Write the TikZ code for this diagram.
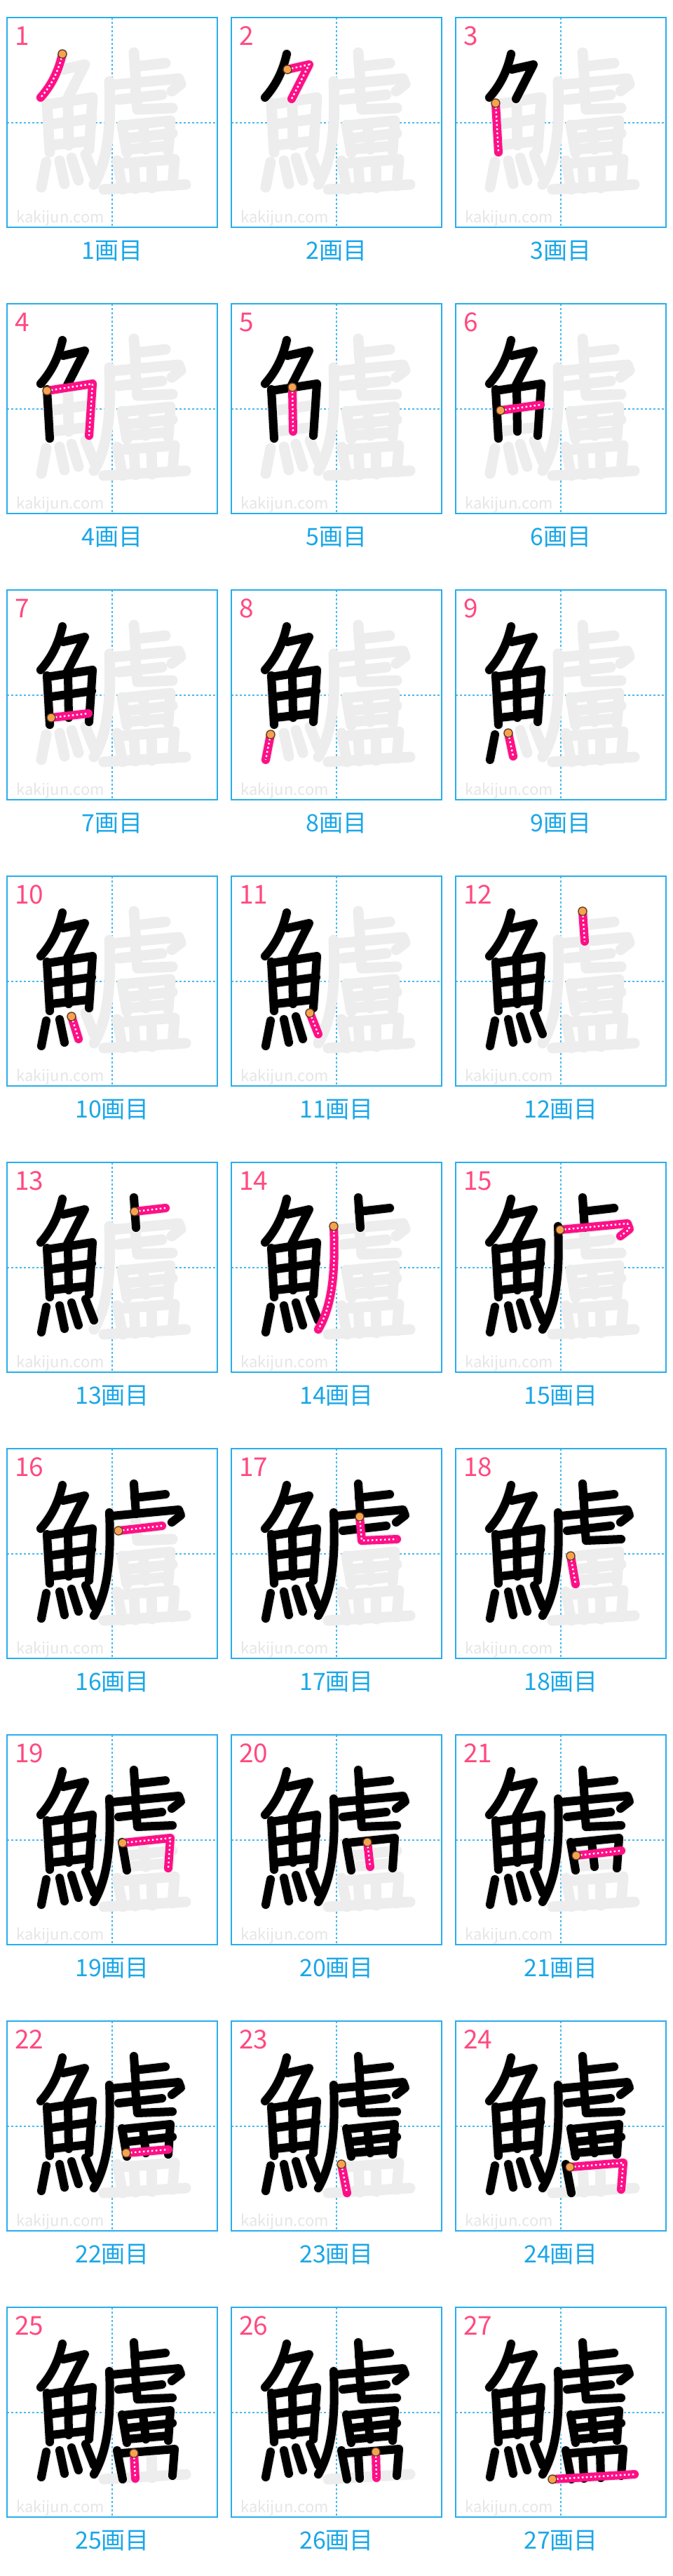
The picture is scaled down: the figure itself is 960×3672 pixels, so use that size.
\documentclass[tikz,border=0pt]{standalone}
\usepackage{fontspec}
\usepackage{tikz}
\newfontfamily\jpfont{Noto Sans CJK JP}
\definecolor{gridblue}{HTML}{29AEEB}
\definecolor{labelblue}{HTML}{1AA7E8}
\definecolor{numpink}{HTML}{FF4A80}
\definecolor{curpink}{HTML}{FF0F87}
\definecolor{ghost}{HTML}{EDEDED}
\definecolor{wmgray}{HTML}{E6E6E6}
\definecolor{startdot}{HTML}{F7A24F}
\definecolor{dotedge}{HTML}{5C3B1E}
%% stroke table: number, start point, rest of path (cell-local px, y down)
\newcommand\defstroke[3]{%
  \expandafter\def\csname kst#1\endcsname{#2}%
  \expandafter\def\csname kpa#1\endcsname{#3}}
\newcommand\getstroke[1]{%
  \edef\thispath{\csname kst#1\endcsname\csname kpa#1\endcsname}%
  \edef\thisstart{\csname kst#1\endcsname}}
\defstroke{1}{(79,52)}{.. controls (73,78) and (63,97) .. (48,114)}
\defstroke{2}{(80,74)}{-- (111,67) -- (86,116)}
\defstroke{3}{(57,122)}{-- (61,192)}
\defstroke{4}{(57,124)}{-- (122,114) -- (117,188)}
\defstroke{5}{(87,119)}{-- (88,182)}
\defstroke{6}{(64,152)}{-- (121,144)}
\defstroke{7}{(63,182)}{-- (116,176)}
\defstroke{8}{(56,206)}{-- (49,242)}
\defstroke{9}{(75,204)}{-- (82,237)}
\defstroke{10}{(92,200)}{-- (102,232)}
\defstroke{11}{(112,195)}{-- (124,225)}
\defstroke{12}{(181,50)}{-- (184,93)}
\defstroke{13}{(182,70)}{-- (226,65)}
\defstroke{14}{(146,91)}{.. controls (149,160) and (143,205) .. (124,238)}
\defstroke{15}{(149,96)}{-- (245,87) -- (248,95) -- (235,105)}
\defstroke{16}{(159,117)}{-- (221,110)}
\defstroke{17}{(183,97)}{-- (186,131) -- (236,129)}
\defstroke{18}{(164,153)}{-- (171,193)}
\defstroke{19}{(165,154)}{-- (233,147) -- (230,190)}
\defstroke{20}{(194,153)}{-- (198,188)}
\defstroke{21}{(172,172)}{-- (236,165)}
\defstroke{22}{(170,188)}{-- (230,183)}
\defstroke{23}{(157,204)}{-- (165,245)}
\defstroke{24}{(163,208)}{-- (239,202) -- (236,240)}
\defstroke{25}{(181,208)}{-- (183,244)}
\defstroke{26}{(206,206)}{-- (207,243)}
\defstroke{27}{(138,245)}{-- (255,238)}
\begin{document}
\begin{tikzpicture}[x=1pt, y=-1pt,
  cellframe/.style  = {draw=gridblue, line width=1.6pt},
  guide/.style      = {draw=gridblue!85, line width=1.3pt, dash pattern=on 3pt off 3pt},
  ghoststroke/.style= {draw=ghost, line width=15pt, line cap=round, line join=round},
  inkstroke/.style  = {draw=black, line width=12pt, line cap=round, line join=round},
  curstroke/.style  = {draw=curpink, line width=12pt, line cap=round, line join=round},
  curdots/.style    = {draw=white, line width=2.4pt, dash pattern=on 2.5pt off 3.5pt},
  startmark/.style  = {circle, fill=startdot, draw=dotedge, line width=1.3pt, minimum size=12pt, inner sep=0pt},
  numlbl/.style     = {font=\jpfont\fontsize{37}{37}\selectfont, text=numpink, anchor=base west, inner sep=0pt},
  steplbl/.style    = {font=\jpfont\fontsize{34}{34}\selectfont, text=labelblue, inner sep=0pt},
  wmark/.style      = {font=\jpfont\fontsize{22}{22}\selectfont, text=wmgray, anchor=base west, inner sep=0pt},
]
\fill[white] (0,0) rectangle (960,3672);
\useasboundingbox (0,0) rectangle (960,3672);
%%--- one cell per stroke: 3 columns, pitch 320 x 408 ---
\foreach \n in {1,...,27}{
  \pgfmathtruncatemacro\col{mod(\n-1,3)}
  \pgfmathtruncatemacro\row{(\n-1)/3}
  \pgfmathtruncatemacro\prev{\n-1}
  \begin{scope}[shift={(10+320*\col,25+408*\row)}]
    %% frame and guides
    \draw[guide] (150,0) -- (150,299);
    \draw[guide] (0,150) -- (300,150);
    \draw[cellframe] (0,0) rectangle (300,299);
    \node[numlbl] (num\n) at (11,39) {\n};
    \node[wmark] (wm\n) at (13,292) {kakijun.com};
    %% whole character in grey
    \foreach \k in {1,...,27}{
      \getstroke{\k}
      \draw[ghoststroke] \thispath;
    }
    %% strokes already written
    \ifnum\prev>0
      \foreach \k in {1,...,\prev}{
        \getstroke{\k}
        \draw[inkstroke] \thispath;
      }
    \fi
    %% current stroke
    \getstroke{\n}
    \draw[curstroke] \thispath;
    \draw[curdots] \thispath;
    \path \thisstart node[startmark] (dot\n) {};
    \node[steplbl] (lbl\n) at (150,333) {{\n}画目};
  \end{scope}
}
\end{tikzpicture}
\end{document}
